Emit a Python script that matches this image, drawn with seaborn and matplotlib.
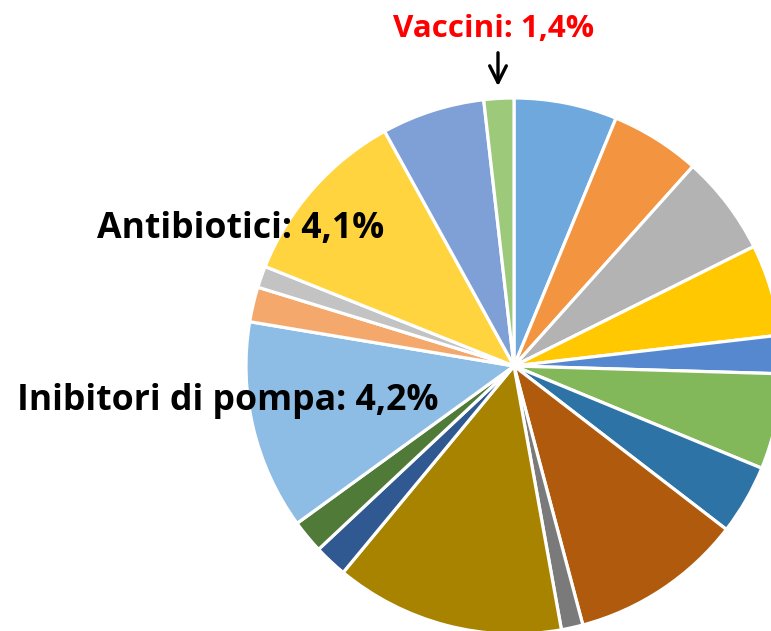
import matplotlib
matplotlib.use("Agg")
import matplotlib.pyplot as plt
import seaborn as sns

# Slice shares (percent), clockwise from 12 o'clock
shares = [6.2, 5.4, 6.0, 5.5, 2.3, 5.75, 4.2, 10.4, 1.3, 13.8,
          2.0, 2.0, 12.6, 2.1, 1.3, 10.9, 6.2, 1.8]
slice_colors = ["#6FA8DC", "#F39441", "#B3B3B3", "#FFC800", "#5688CF",
                "#82B75A", "#2E73A6", "#B05A0E", "#7A7A7A", "#A88300",
                "#2F5990", "#4F7A37", "#8DBCE4", "#F4A86C", "#C3C3C3",
                "#FFD43F", "#7FA0D6", "#9DC97B"]
label_vaccini = "Vaccini: 1,4%"
label_antibiotici = "Antibiotici: 4,1%"
label_inibitori = "Inibitori di pompa: 4,2%"

sns.set_theme(style="white")
plt.rcParams["font.family"] = ["Open Sans", "DejaVu Sans"]

W, H = 771, 631
fig = plt.figure(figsize=(W / 100, H / 100), dpi=100)
ax = fig.add_axes([0, 0, 1, 1])

palette = sns.color_palette(slice_colors)
cx, cy, R = 514, H - 366, 268
ax.pie(shares, colors=palette, startangle=90, counterclock=False,
       center=(cx, cy), radius=R,
       wedgeprops=dict(edgecolor="white", linewidth=2.3))
ax.set_xlim(0, W)
ax.set_ylim(0, H)
ax.set_aspect("equal")
ax.axis("off")

ax.text(494, H - 37, label_vaccini, color="#FF0000", fontsize=22.6,
        fontweight="bold", ha="center", va="baseline")
ax.text(241, H - 237.7, label_antibiotici, color="black", fontsize=25.7,
        fontweight="bold", ha="center", va="baseline")
ax.text(227.5, H - 410, label_inibitori, color="black", fontsize=25.7,
        fontweight="bold", ha="center", va="baseline")

ax.annotate("", xy=(498, H - 89), xytext=(498, H - 50),
            arrowprops=dict(arrowstyle="->", color="black", lw=2.4,
                            mutation_scale=30))

fig.savefig("out.png", dpi=100)
